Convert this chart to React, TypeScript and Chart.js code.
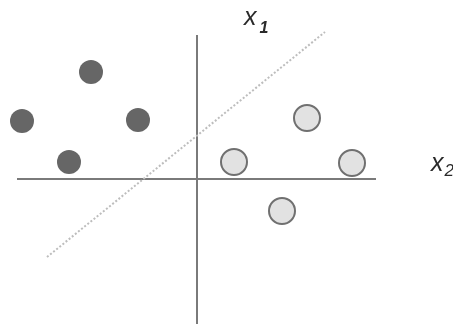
import React, { useEffect, useRef } from "react";
import { Chart, registerables } from "chart.js";

Chart.register(...registerables);

// Class A (filled dark) points: x2, x1
const classAX2 = [-10.6, -17.5, -5.9, -12.8];
const classAX1 = [10.7, 5.8, 5.9, 1.7];

// Class B (light, outlined) points
const classBX2 = [11.0, 3.7, 15.5, 8.5];
const classBX1 = [6.1, 1.7, 1.6, -3.2];

// Separating (dotted) line endpoints
const boundaryX2 = [-15.0, 12.8];
const boundaryX1 = [-7.8, 14.7];

// Axis extents
const horizAxisX2 = [-18.0, 17.9];
const vertAxisX1 = [14.4, -15.0];

const xLabel = "x";
const x1Sub = "1";
const x2Sub = "2";

const labelsPlugin = {
  id: "axisLabels",
  afterDraw(chart: any) {
    const ctx = chart.ctx;
    const xs = chart.scales.x;
    const ys = chart.scales.y;
    ctx.save();
    ctx.fillStyle = "#2a2a2a";
    ctx.textBaseline = "alphabetic";
    ctx.textAlign = "left";
    // x1 label near top of vertical axis
    let px = xs.getPixelForValue(4.7);
    let py = ys.getPixelForValue(15.4);
    ctx.font = "italic 25px 'Liberation Sans', Arial, sans-serif";
    ctx.fillText(xLabel, px, py);
    let w = ctx.measureText(xLabel).width;
    ctx.font = "italic bold 16px 'Liberation Sans', Arial, sans-serif";
    ctx.fillText(x1Sub, px + w + 3, py + 8);
    // x2 label at right
    px = xs.getPixelForValue(23.4);
    py = ys.getPixelForValue(0.8);
    ctx.font = "italic 25px 'Liberation Sans', Arial, sans-serif";
    ctx.fillText(xLabel, px, py);
    w = ctx.measureText(xLabel).width;
    ctx.font = "italic 17px 'Liberation Sans', Arial, sans-serif";
    ctx.fillText(x2Sub, px + w + 1, py + 5);
    ctx.restore();
  },
};

export default function App() {
  const ref = useRef<HTMLCanvasElement | null>(null);
  useEffect(() => {
    document.body.style.margin = "0";
    const canvas = ref.current;
    if (!canvas) return;
    const zip = (a: number[], b: number[]) => a.map((v, i) => ({ x: v, y: b[i] }));
    const chart = new Chart(canvas, {
      type: "scatter",
      data: {
        datasets: [
          {
            label: "Class A",
            data: zip(classAX2, classAX1),
            backgroundColor: "#666666",
            borderColor: "#666666",
            borderWidth: 0,
            pointRadius: 12,
            pointHoverRadius: 12,
          },
          {
            label: "Class B",
            data: zip(classBX2, classBX1),
            backgroundColor: "#e2e2e2",
            borderColor: "#707070",
            borderWidth: 2,
            pointRadius: 13,
            pointHoverRadius: 13,
          },
          {
            label: "boundary",
            data: zip(boundaryX2, boundaryX1),
            showLine: true,
            borderColor: "#bdbdbd",
            borderWidth: 2,
            borderDash: [2, 2],
            pointRadius: 0,
          },
          {
            label: "x2 axis",
            data: zip(horizAxisX2, [0, 0]),
            showLine: true,
            borderColor: "#7a7a7a",
            borderWidth: 2,
            pointRadius: 0,
          },
          {
            label: "x1 axis",
            data: zip([0, 0], vertAxisX1),
            showLine: true,
            borderColor: "#7a7a7a",
            borderWidth: 2,
            pointRadius: 0,
          },
        ],
      },
      options: {
        animation: false,
        responsive: false,
        devicePixelRatio: 1,
        layout: { padding: 0, autoPadding: false },
        plugins: {
          legend: { display: false },
          tooltip: { enabled: false },
        },
        scales: {
          x: { type: "linear", min: -19.7, max: 25.6, display: false },
          y: { type: "linear", min: -14.5, max: 17.9, display: false },
        },
      },
      plugins: [labelsPlugin],
    });
    return () => chart.destroy();
  }, []);
  return (
    <div style={{ width: 453, height: 324, background: "#ffffff" }}>
      <canvas ref={ref} width={453} height={324} />
    </div>
  );
}
